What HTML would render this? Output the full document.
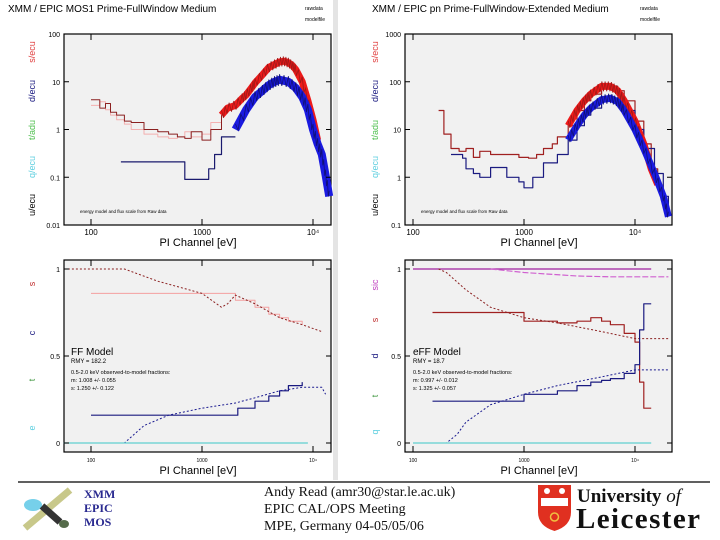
<!DOCTYPE html>
<html><head><meta charset="utf-8"><style>
html,body{margin:0;padding:0;background:#fff}
svg{display:block}
text{font-family:"Liberation Sans",sans-serif}
.serif{font-family:"Liberation Serif",serif}
</style></head><body>
<svg id="s" width="720" height="540" viewBox="0 0 720 540">
<rect x="0" y="0" width="720" height="540" fill="#fff"/>
<rect x="333" y="0" width="5" height="480" fill="#e4e4e4"/>
<g id="g"></g>
<line x1="18" y1="482" x2="710" y2="482" stroke="#000" stroke-width="1.2"/>
<g>
<line x1="25" y1="528" x2="70" y2="490" stroke="#c8c88a" stroke-width="7"/>
<ellipse cx="33" cy="505" rx="9" ry="6" fill="#5ec8e6" opacity="0.85"/>
<line x1="42" y1="506" x2="60" y2="522" stroke="#333" stroke-width="7"/>
<ellipse cx="64" cy="524" rx="5" ry="4" fill="#556b4a"/>
</g>
<text x="84" y="498" class="serif" font-size="12" font-weight="bold" fill="#2a2a90">XMM</text>
<text x="84" y="512" class="serif" font-size="12" font-weight="bold" fill="#2a2a90">EPIC</text>
<text x="84" y="526" class="serif" font-size="12" font-weight="bold" fill="#2a2a90">MOS</text>
<text x="264" y="496" class="serif" font-size="14" fill="#111">Andy Read (amr30@star.le.ac.uk)</text>
<text x="264" y="513" class="serif" font-size="14" fill="#111">EPIC CAL/OPS Meeting</text>
<text x="264" y="530" class="serif" font-size="14" fill="#111">MPE, Germany 04-05/05/06</text>
<g>
<path d="M538 485 H571 V512 Q571 526 554.5 531 Q538 526 538 512 Z" fill="#e03020"/>
<rect x="541" y="498" width="27" height="8" fill="#fff"/>
<circle cx="547" cy="491" r="3" fill="#fff"/><circle cx="562" cy="491" r="3" fill="#fff"/>
<circle cx="554.5" cy="517" r="4" fill="none" stroke="#f0c040" stroke-width="1.5"/>
<text x="577" y="502" class="serif" font-size="19" font-weight="bold" fill="#111">University <tspan font-style="italic" font-weight="normal">of</tspan></text>
<text x="576" y="528" class="serif" font-size="29" font-weight="bold" fill="#111" textLength="124">Leicester</text>
</g>
</svg>
<script>
// ---- data: top-left (MOS1 spectrum) ----
const tlRedLowE=[100,120,135,150,170,200,230,300,400,500,600,700,800,1000,1200,1500];
const tlRedLowV=[4.2,2.8,3.5,2.3,2.0,1.5,1.4,1.0,0.9,0.8,0.7,0.65,0.9,0.6,1.0,2.0];
const tlPinkLowV=[3.2,3.8,2.6,2.0,1.6,1.3,1.0,0.8,0.7,0.65,0.7,0.9,0.7,0.8,1.4,1.8];
const tlRedE=[1500,1700,2000,2300,2500,2800,3000,3500,4000,4500,5000,5500,6000,6500,7000,8000,9000,10000,11000];
const tlRedV=[2,2.8,3.2,4.5,5.3,7.5,9.4,14,20,23,26,27,25,22,18,10,4,1.6,0.6];
const tlBlueLowE=[186,700,700,1150,1150,1300,1300,1500,1500,2000];
const tlBlueLowV=[0.21,0.21,0.09,0.09,0.15,0.15,0.3,0.3,0.7,0.7];
const tlBlueE=[2000,2500,3000,3500,4000,4500,5000,6000,7000,8000,9000,10000,11000,12000,13000,14000];
const tlBlueV=[1,2.6,4.8,6.5,8.5,10,11,10,7.4,4.8,2.6,1,0.5,0.3,0.11,0.04];
// ---- data: top-right (pn spectrum) ----
const trRedE=[170,190,220,260,300,350,400,500,700,900,1100,1300,1500,1800,2000,2500,3000,3500,4000,5000,6000,7000,8000,10000,12000,14000,16000];
const trRedV=[25,8,4,3.5,4,2.6,3.5,3,3,2.6,2.5,3,4,5,7,12,25,40,55,80,80,65,40,15,5,1.5,0.7];
const trBlueE=[220,280,300,350,400,500,700,900,1000,1200,1500,2000,2500,3000,3500,4000,5000,6000,7000,8000,10000,12000,15000,18000,20000];
const trBlueV=[3,2.5,1.5,1.2,1,1.6,1,0.8,0.6,1.0,2,3,6,12,20,28,42,45,38,25,10,4,1.2,0.4,0.15];
// ---- data: bottom-left (MOS1 fractions) ----
const blRedModE=[57,200,400,1000,1500,1700,2000,3000,5000,8000,12000];
const blRedModV=[1,1,0.93,0.86,0.78,0.8,0.85,0.8,0.72,0.68,0.64];
const blPinkE=[100,2000,2000,3000,4000,5000,6000,8000];
const blPinkV=[0.86,0.86,0.82,0.78,0.74,0.72,0.70,0.68];
const blBlueModE=[57,200,300,500,1000,2000,3000,5000,8000,12000,13000];
const blBlueModV=[0,0,0.1,0.16,0.2,0.23,0.26,0.3,0.32,0.32,0.28];
const blBlueE=[100,2100,2100,3000,4000,5000,6000,8000];
const blBlueV=[0.16,0.16,0.2,0.24,0.27,0.3,0.33,0.35];
const blCyanE=[57,9000];
const blCyanV=[0,0];
// ---- data: bottom-right (pn fractions) ----
const brMagE=[100,14000];
const brMagV=[1,1];
const brMag2E=[500,1000,3000,6000,20000];
const brMag2V=[1,0.98,0.96,0.955,0.955];
const brRedModE=[170,200,300,500,1000,2000,5000,10000,20000];
const brRedModV=[1,0.98,0.88,0.78,0.72,0.69,0.64,0.6,0.6];
const brRedE=[150,1000,1000,2000,3000,4000,5000,6000,8000,10000,11000,11000,12000,12000,14000];
const brRedV=[0.75,0.75,0.7,0.69,0.7,0.72,0.7,0.68,0.63,0.58,0.5,0.35,0.35,0.2,0.2];
const brBlueModE=[100,200,250,300,500,1000,2000,5000,10000,20000];
const brBlueModV=[0,0,0.05,0.12,0.22,0.28,0.33,0.38,0.42,0.42];
const brBlueE=[150,1000,1000,2000,3000,4000,5000,6000,8000,10000,11000,11000,12000,12000,14000];
const brBlueV=[0.24,0.24,0.28,0.3,0.33,0.35,0.36,0.37,0.4,0.45,0.5,0.65,0.65,0.8,0.8];
const brCyanE=[100,14000];
const brCyanV=[0,0];
const xTicks=["100","1000","10⁴"];

const NS="http://www.w3.org/2000/svg";
const G=document.getElementById('g');
function el(t,a,p){const e=document.createElementNS(NS,t);for(const k in a)e.setAttribute(k,a[k]);(p||G).appendChild(e);return e;}
function panel(x0,x1,y0,y1,x100,dec){
  return {x0,x1,y0,y1,X:e=>x100+(Math.log10(e)-2)*dec};
}
const TL=panel(64,331,34,225,91,111);
const TR=panel(405,672,34,225,413,111);
const BL=panel(64,331,260,452,91,111);
const BR=panel(405,672,260,452,413,111);
TL.Y=v=>34+(2-Math.log10(v))*47.75;
TR.Y=v=>34+(3-Math.log10(v))*47.75;
BL.Y=v=>443-v*174; BR.Y=BL.Y;

function frame(P,name){
  const r=el('rect',{x:P.x0,y:P.y0,width:P.x1-P.x0,height:P.y1-P.y0,fill:'#f1f1f1',stroke:'#000','stroke-width':1.2});
  
  
}
function series(P,E,V,color,w,name,dash,step){
  let d='';
  for(let i=0;i<E.length;i++){
    const x=P.X(E[i]),y=P.Y(V[i]);
    if(i===0)d+='M'+x.toFixed(1)+' '+y.toFixed(1);
    else{ if(step)d+=' H'+x.toFixed(1)+' V'+y.toFixed(1); else d+=' L'+x.toFixed(1)+' '+y.toFixed(1);}
  }
  const a={d,fill:'none',stroke:color,'stroke-width':w,'stroke-linejoin':'round'};
  if(dash)a['stroke-dasharray']=dash;
  const p=el('path',a);
  
  
}
// noisy band: thick line plus jagged outline (jagged offset is a fixed visual texture)
function band(P,E,V,color,w,name,edge){
  series(P,E,V,color,w,name);
  let d='';
  const steps=60;
  for(let k=0;k<=steps;k++){
    const t=k/steps*(E.length-1);const i=Math.min(Math.floor(t),E.length-2);const f=t-i;
    const lx=Math.log10(E[i])*(1-f)+Math.log10(E[i+1])*f;
    const ly=Math.log10(V[i])*(1-f)+Math.log10(V[i+1])*f;
    const x=P.X(Math.pow(10,lx)),y=P.Y(Math.pow(10,ly))+((k%2)?w*0.7:-w*0.7);
    d+=(k?' L':'M')+x.toFixed(1)+' '+y.toFixed(1);
  }
  const p=el('path',{d,fill:'none',stroke:edge,'stroke-width':0.8});
  
  
}
function txt(x,y,s,size,color,name,extra){
  const t=el('text',Object.assign({x,y,'font-size':size,fill:color},extra||{}));
  t.textContent=s;
  
  
  return t;
}
function yticks(P,vals,labels,name){
  vals.forEach((v,i)=>{
    const y=P.Y(v);
    el('line',{x1:P.x0,y1:y,x2:P.x0+5,y2:y,stroke:'#000'});
    el('line',{x1:P.x1,y1:y,x2:P.x1-5,y2:y,stroke:'#000'});
    txt(P.x0-4,y+3,labels[i],7,'#000',name+'-y-tick',{'text-anchor':'end'});
  });
}
function xticks(P,name,size){
  [100,1000,10000].forEach((e,i)=>{
    const x=P.X(e);
    el('line',{x1:x,y1:P.y1,x2:x,y2:P.y1-6,stroke:'#000'});
    el('line',{x1:x,y1:P.y0,x2:x,y2:P.y0+6,stroke:'#000'});
    txt(x,P.y1+10,xTicks[i],size,'#000',name+'-x-tick',{'text-anchor':'middle'});
  });
}
function ylabels(x,items,name){
  items.forEach(([s,c,y])=>{
    txt(0,0,s,9,c,name+'-y-label',{transform:`translate(${x},${y}) rotate(-90)`,'text-anchor':'middle'});
  });
}

// top-left
frame(TL,'mos1-spectrum');
series(TL,tlRedLowE,tlPinkLowV,'#f4b0b0',1,'mos1-model-low',null,true);
series(TL,tlRedLowE,tlRedLowV,'#8b2020',1,'mos1-observed-low',null,true);
series(TL,tlBlueLowE,tlBlueLowV,'#1a1a6e',1.2,'mos1-blue-low',null,false);
band(TL,tlRedE,tlRedV,'#ee1a1a',7,'mos1-red-band','#a01818');
band(TL,tlBlueE,tlBlueV,'#1a1ae0',8,'mos1-blue-band','#10107a');
yticks(TL,[100,10,1,0.1,0.01],['100','10','1','0.1','0.01'],'mos1');
xticks(TL,'mos1',8);
txt(8,12,'XMM / EPIC MOS1 Prime-FullWindow Medium',10,'#000','mos1-spectrum-title');
txt(305,10,'rawdata',5,'#000','mos1-note');
txt(305,21,'modelfile',5,'#000','mos1-note2');
txt(80,213,'energy model and flux scale from Raw data',4.5,'#000','mos1-footnote');
txt(198,246,'PI Channel [eV]',11,'#000','mos1-x-title',{'text-anchor':'middle'});
ylabels(35,[['s/ecu','#e04040',52],['d/ecu','#1a1a80',91],['t/adu','#50c050',130],['q/ecu','#60d0e0',167],['u/ecu','#000',205]],'mos1');

// top-right
frame(TR,'pn-spectrum');
series(TR,trRedE,trRedV,'#a02020',1.2,'pn-red-low',null,true);
series(TR,trBlueE,trBlueV,'#1a1a80',1.2,'pn-blue-low',null,true);
band(TR,trRedE.slice(15),trRedV.slice(15),'#ee1a1a',7,'pn-red-band','#a01818');
band(TR,trBlueE.slice(12),trBlueV.slice(12),'#1a1ae0',7,'pn-blue-band','#10107a');
yticks(TR,[1000,100,10,1,0.1],['1000','100','10','1','0.1'],'pn');
xticks(TR,'pn',8);
txt(372,12,'XMM / EPIC pn Prime-FullWindow-Extended Medium',10,'#000','pn-spectrum-title');
txt(640,10,'rawdata',5,'#000','pn-note');
txt(640,21,'modelfile',5,'#000','pn-note2');
txt(421,213,'energy model and flux scale from Raw data',4.5,'#000','pn-footnote');
txt(539,246,'PI Channel [eV]',11,'#000','pn-x-title',{'text-anchor':'middle'});
ylabels(378,[['s/ecu','#e04040',52],['d/ecu','#1a1a80',91],['t/adu','#50c050',130],['q/ecu','#60d0e0',167],['u/ecu','#000',205]],'pn');

// bottom-left
frame(BL,'mos1-fraction');
series(BL,blPinkE,blPinkV,'#f4a0a0',1,'mos1-pink-fraction',null,true);
series(BL,blRedModE,blRedModV,'#8b2020',1,'mos1-red-model','2,2');
series(BL,blBlueE,blBlueV,'#1a1a80',1.2,'mos1-blue-fraction',null,true);
series(BL,blBlueModE,blBlueModV,'#1a1a90',1,'mos1-blue-model','2,2');
series(BL,blCyanE,blCyanV,'#60d0d0',1.2,'mos1-cyan-fraction');
yticks(BL,[1,0.5,0],['1','0.5','0'],'mos1-frac');
xticks(BL,'mos1-frac',5);
txt(71,355,'FF Model',10,'#000','mos1-model-name');
txt(71,363,'RMY = 182.2',6,'#000','mos1-model-rmy');
txt(71,374,'0.5-2.0 keV observed-to-model fractions:',5.5,'#000','mos1-stats1');
txt(71,382,'m: 1.008 +/- 0.055',5.5,'#000','mos1-stats2');
txt(71,390,'s: 1.250 +/- 0.122',5.5,'#000','mos1-stats3');
txt(198,474,'PI Channel [eV]',11,'#000','mos1-frac-x-title',{'text-anchor':'middle'});
ylabels(35,[['s','#c03030',284],['c','#1a1a80',333],['t','#50a050',380],['e','#60d0e0',428]],'mos1-frac');

// bottom-right
frame(BR,'pn-fraction');
series(BR,brMagE,brMagV,'#a020a0',1.2,'pn-magenta-fraction');
series(BR,brMag2E,brMag2V,'#d060d0',1.2,'pn-magenta2-fraction','6,2');
series(BR,brRedE,brRedV,'#a02020',1.2,'pn-red-fraction',null,true);
series(BR,brRedModE,brRedModV,'#8b2020',1,'pn-red-model','2,2');
series(BR,brBlueE,brBlueV,'#1a1a80',1.2,'pn-blue-fraction',null,true);
series(BR,brBlueModE,brBlueModV,'#1a1a90',1,'pn-blue-model','2,2');
series(BR,brCyanE,brCyanV,'#60d0d0',1.2,'pn-cyan-fraction');
yticks(BR,[1,0.5,0],['1','0.5','0'],'pn-frac');
xticks(BR,'pn-frac',5);
txt(413,355,'eFF Model',10,'#000','pn-model-name');
txt(413,363,'RMY = 18.7',6,'#000','pn-model-rmy');
txt(413,374,'0.5-2.0 keV observed-to-model fractions:',5.5,'#000','pn-stats1');
txt(413,382,'m: 0.997 +/- 0.012',5.5,'#000','pn-stats2');
txt(413,390,'s: 1.325 +/- 0.057',5.5,'#000','pn-stats3');
txt(539,474,'PI Channel [eV]',11,'#000','pn-frac-x-title',{'text-anchor':'middle'});
ylabels(378,[['sic','#c040c0',285],['s','#c03030',320],['d','#1a1a80',356],['t','#50a050',396],['q','#60d0e0',432]],'pn-frac');
</script>
</body></html>
